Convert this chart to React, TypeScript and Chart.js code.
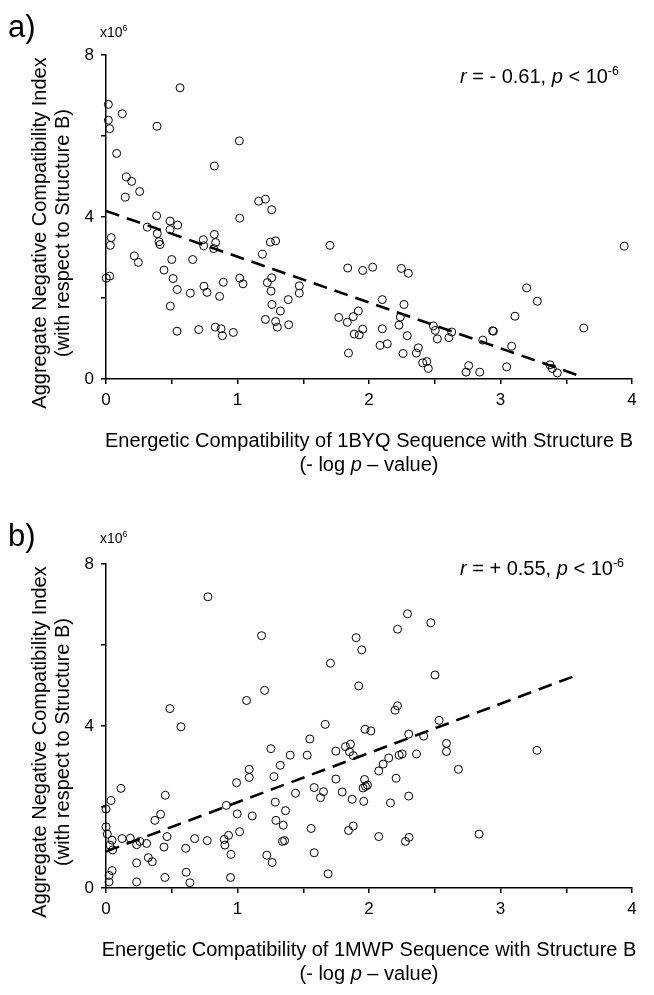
import React, { useEffect, useRef } from "react";
import { Chart, registerables } from "chart.js";

Chart.register(...registerables);

const FAMILY = "'Liberation Sans', Arial, Helvetica, sans-serif";

// ---------- Panel a: 1BYQ (x = -log p, y = index in millions) ----------
const aX: number[] = [
  0.563, 0.018, 0.124, 0.018, 0.028, 0.388, 1.014, 0.081, 0.824, 0.155, 0.195, 0.256, 0.147, 1.161, 1.212, 1.26,
  0.385, 0.487, 0.545, 0.314, 0.487, 1.017, 0.39, 0.04, 0.033, 0.403, 0.411, 0.74, 0.743, 0.824, 0.834, 0.819,
  1.25, 1.29, 1.703, 0.215, 0.246, 0.659, 0.5, 1.189, 0.441, 0.002, 0.028, 0.51, 0.542, 1.017, 1.042, 1.227,
  1.26, 1.255, 0.892, 0.745, 0.768, 0.641, 0.864, 1.47, 1.47, 1.386, 0.489, 1.262, 1.326, 1.212, 1.29, 1.303,
  1.389, 0.831, 0.875, 0.885, 0.968, 0.705, 0.54, 1.838, 1.952, 2.028, 1.77, 1.835, 1.88, 1.919, 1.952, 1.888,
  1.926, 1.844, 2.246, 2.299, 3.941, 3.199, 3.28, 2.101, 2.266, 2.238, 2.228, 2.101, 2.291, 2.084, 2.139, 2.259,
  2.375, 2.36, 2.408, 2.439, 2.451, 2.489, 2.504, 2.52, 2.608, 2.629, 2.946, 2.94, 2.865, 3.085, 3.11, 3.633,
  2.758, 2.738, 2.842, 3.047, 3.376, 3.394, 3.432,
];
const aY: number[] = [
  7.19, 6.78, 6.55, 6.39, 6.18, 6.24, 5.88, 5.57, 5.26, 4.99, 4.88, 4.63, 4.49, 4.39, 4.44, 4.18,
  4.03, 3.9, 3.8, 3.75, 3.69, 3.97, 3.59, 3.49, 3.3, 3.39, 3.32, 3.44, 3.29, 3.57, 3.37, 3.22,
  3.38, 3.41, 3.3, 3.04, 2.88, 2.95, 2.95, 3.08, 2.69, 2.49, 2.54, 2.48, 2.21, 2.49, 2.35, 2.38,
  2.5, 2.17, 2.39, 2.29, 2.14, 2.12, 2.04, 2.3, 2.12, 1.96, 1.8, 1.84, 1.68, 1.47, 1.42, 1.28,
  1.34, 1.28, 1.24, 1.07, 1.15, 1.22, 1.18, 2.74, 2.68, 2.76, 1.52, 1.4, 1.54, 1.68, 1.23, 1.11,
  1.09, 0.64, 2.73, 2.61, 3.28, 2.25, 1.92, 1.96, 1.84, 1.53, 1.33, 1.24, 1.07, 0.83, 0.87, 0.63,
  0.77, 0.64, 0.4, 0.43, 0.26, 1.31, 1.2, 0.99, 1.02, 1.16, 1.18, 1.19, 0.96, 0.81, 1.55, 1.26,
  0.33, 0.17, 0.17, 0.3, 0.35, 0.26, 0.15,
];
const aFitX: number[] = [0, 3.6];
const aFitY: number[] = [4.15, 0.08];

// ---------- Panel b: 1MWP ----------
const bX: number[] = [
  0.775, 1.183, 1.902, 1.945, 1.707, 1.922, 1.206, 1.069, 0.486, 0.57, 1.667, 1.97, 2.014,
  2.293, 2.47, 2.217, 2.502, 2.217, 2.198, 2.533,
  1.254, 1.55, 1.401, 1.53, 1.748, 1.821, 1.859, 1.852, 1.88, 1.089, 1.089, 0.993, 1.325, 1.277, 2.074, 1.748,
  1.966, 1.955, 1.973, 1.988, 1.583, 1.654, 1.631, 1.796, 1.872, 1.96, 1.441, 1.287, 1.365, 1.292, 1.348, 1.112,
  0.998, 1.016, 0.915, 0.451, 0.114, 0.038, 0.0, 0.372, 0.415, 0.0, 0.01, 0.046, 0.03, 0.051, 0.122, 0.185,
  0.233, 0.258, 0.309, 0.464, 0.441, 0.322, 0.352, 0.233, 0.046, 0.023, 0.023, 0.233, 0.448, 0.61, 0.638, 0.606,
  0.674, 0.77, 0.899, 0.932, 0.904, 0.95, 0.947, 1.223, 1.264, 1.56, 1.583, 1.689, 1.342, 1.358, 1.844, 1.88,
  2.074, 2.302, 2.416, 2.589, 2.589, 2.68, 3.277, 2.361, 2.229, 2.252, 2.15, 2.108, 2.206, 2.163, 2.302, 2.305,
  2.277, 2.837,
];
const bY: number[] = [
  7.19, 6.23, 6.18, 5.88, 5.55, 4.99, 4.88, 4.63, 4.43, 3.98, 4.04, 3.92, 3.88,
  6.77, 6.55, 6.39, 5.26, 4.5, 4.39, 4.14,
  3.44, 3.68, 3.28, 3.28, 3.38, 3.49, 3.55, 3.36, 3.27, 2.93, 2.73, 2.6, 3.03, 2.75, 2.89, 2.69,
  2.68, 2.47, 2.51, 2.54, 2.48, 2.38, 2.23, 2.37, 2.19, 2.14, 2.34, 2.12, 1.91, 1.67, 1.55, 1.78,
  1.83, 1.39, 2.04, 2.29, 2.46, 2.16, 1.95, 1.67, 1.82, 1.51, 1.33, 1.18, 1.06, 0.94, 1.22, 1.23,
  1.07, 1.15, 1.1, 1.27, 1.01, 0.75, 0.65, 0.62, 0.43, 0.31, 0.15, 0.15, 0.26, 0.39, 0.13, 0.98,
  1.22, 1.17, 1.2, 1.3, 1.06, 0.83, 0.26, 0.81, 0.63, 1.47, 0.87, 0.35, 1.15, 1.17, 1.42, 1.53,
  1.27, 3.8, 3.75, 3.57, 3.37, 2.93, 3.4, 3.31, 3.28, 3.31, 3.21, 3.06, 2.71, 2.1, 2.27, 1.25,
  1.15, 1.33,
];
const bFitX: number[] = [0, 3.56];
const bFitY: number[] = [0.9, 5.23];

// ---------- tick values ----------
const xTickStep = 0.5;
const xLabelled: number[] = [0, 1, 2, 3, 4];
const yTickStep = 2;
const yLabelled: number[] = [0, 4, 8];

type Run = { t: string; i?: boolean; sup?: boolean };

function drawRuns(ctx: CanvasRenderingContext2D, runs: Run[], x: number, y: number, size: number, align: "left" | "center") {
  const parts = runs.map((r) => {
    const fs = r.sup ? size * 0.62 : size;
    const font = `${r.i ? "italic " : ""}${fs}px ${FAMILY}`;
    ctx.font = font;
    return { ...r, font, w: ctx.measureText(r.t).width };
  });
  const total = parts.reduce((a, p) => a + p.w, 0);
  let cx = align === "center" ? x - total / 2 : x;
  ctx.textAlign = "left";
  for (const p of parts) {
    ctx.font = p.font;
    ctx.fillText(p.t, cx, p.sup ? y - size * 0.4 : y);
    cx += p.w;
  }
}

type PanelProps = {
  height: number;
  top: number;
  letter: string;
  xs: number[];
  ys: number[];
  fitX: number[];
  fitY: number[];
  seq: string;
  rRuns: Run[];
  annoY: number;
  x10Y: number;
};

const CHART_TOP = 55;
const CHART_BOTTOM = 379;
const CHART_LEFT = 106;
const CHART_RIGHT = 632;

function Panel(p: PanelProps) {
  const ref = useRef<HTMLCanvasElement | null>(null);
  useEffect(() => {
    if (!ref.current) return;
    const H = p.height;
    const textPlugin = {
      id: "texts" + p.letter,
      afterDraw(chart: any) {
        const ctx: CanvasRenderingContext2D = chart.ctx;
        ctx.save();
        ctx.fillStyle = "#000";
        ctx.textBaseline = "alphabetic";
        // panel letter
        ctx.font = `31px ${FAMILY}`;
        ctx.textAlign = "left";
        ctx.fillText(p.letter + ")", 8, 37);
        // x10^6
        drawRuns(ctx, [{ t: "x10" }, { t: "6", sup: true }], 100, p.x10Y, 14, "left");
        // annotation
        drawRuns(ctx, p.rRuns, 460, p.annoY, 20, "left");
        // x title
        const cx = (CHART_LEFT + CHART_RIGHT) / 2;
        drawRuns(ctx, [{ t: `Energetic Compatibility of ${p.seq} Sequence with Structure B` }], cx, CHART_BOTTOM + 68, 20, "center");
        drawRuns(ctx, [{ t: "(- log " }, { t: "p", i: true }, { t: " \u2013 value)" }], cx, CHART_BOTTOM + 92, 20, "center");
        // y title
        ctx.translate(0, 233);
        ctx.rotate(-Math.PI / 2);
        ctx.textAlign = "center";
        ctx.textBaseline = "middle";
        ctx.font = `20px ${FAMILY}`;
        ctx.fillText("Aggregate Negative Compatibility Index", 0, 40);
        ctx.fillText("(with respect to Structure B)", 0, 63);
        ctx.restore();
      },
    };
    const tickFont = { family: FAMILY, size: 17 };
    const chart = new Chart(ref.current, {
      type: "scatter",
      data: {
        datasets: [
          {
            data: p.xs.map((x, i) => ({ x, y: p.ys[i] })),
            pointStyle: "circle",
            pointRadius: 4,
            pointBorderWidth: 1,
            borderColor: "#000",
            backgroundColor: "rgba(0,0,0,0)",
            clip: false,
          } as any,
          {
            data: p.fitX.map((x, i) => ({ x, y: p.fitY[i] })),
            showLine: true,
            pointRadius: 0,
            borderColor: "#000",
            borderWidth: 2.6,
            borderDash: [14, 8],
            fill: false,
          } as any,
        ],
      },
      options: {
        animation: false,
        responsive: false,
        devicePixelRatio: 1,
        layout: { padding: { top: CHART_TOP, right: 654 - CHART_RIGHT, left: 0, bottom: 0 } },
        plugins: { legend: { display: false }, tooltip: { enabled: false } },
        scales: {
          x: {
            type: "linear",
            min: 0,
            max: 4,
            afterFit: (s: any) => {
              s.height = H - CHART_BOTTOM;
            },
            ticks: {
              stepSize: xTickStep,
              autoSkip: false,
              maxRotation: 0,
              color: "#000",
              font: tickFont,
              padding: 6,
              callback: (v: any) => (xLabelled.includes(Number(v)) ? String(v) : ""),
            },
            grid: { drawOnChartArea: false, drawTicks: true, tickLength: 5, color: "#000", lineWidth: 1.5 },
            border: { color: "#000", width: 1.5 },
          },
          y: {
            type: "linear",
            min: 0,
            max: 8,
            afterFit: (s: any) => {
              s.width = CHART_LEFT;
            },
            ticks: {
              stepSize: yTickStep,
              autoSkip: false,
              color: "#000",
              font: tickFont,
              padding: 7,
              callback: (v: any) => (yLabelled.includes(Number(v)) ? String(v) : ""),
            },
            grid: { drawOnChartArea: false, drawTicks: true, tickLength: 5, color: "#000", lineWidth: 1.5 },
            border: { color: "#000", width: 1.5 },
          },
        },
      } as any,
      plugins: [textPlugin],
    });
    return () => chart.destroy();
  }, []);
  return (
    <canvas
      ref={ref}
      width={654}
      height={p.height}
      style={{ position: "absolute", left: 0, top: p.top, width: 654, height: p.height, display: "block" }}
    />
  );
}

export default function App() {
  return (
    <div style={{ position: "absolute", left: 0, top: 0, width: 654, height: 995, background: "#fff" }}>
      <Panel
        height={509}
        top={0}
        letter="a"
        xs={aX}
        ys={aY}
        fitX={aFitX}
        fitY={aFitY}
        seq="1BYQ"
        rRuns={[{ t: "r", i: true }, { t: " = - 0.61, " }, { t: "p", i: true }, { t: " < 10" }, { t: "-6", sup: true }]}
        annoY={83}
        x10Y={37}
      />
      <Panel
        height={486}
        top={509}
        letter="b"
        xs={bX}
        ys={bY}
        fitX={bFitX}
        fitY={bFitY}
        seq="1MWP"
        rRuns={[{ t: "r", i: true }, { t: " = + 0.55, " }, { t: "p", i: true }, { t: " < 10" }, { t: "-6", sup: true }]}
        annoY={66}
        x10Y={34}
      />
    </div>
  );
}
